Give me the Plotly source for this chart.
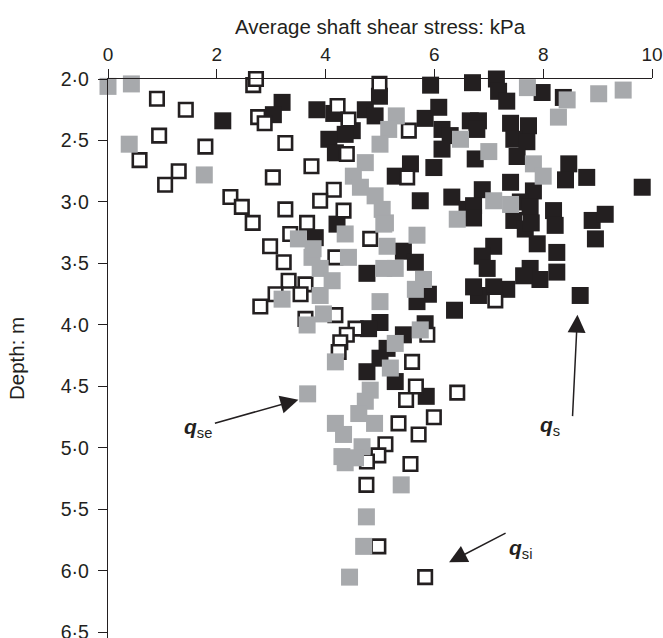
import plotly.graph_objects as go

# q_s : black filled squares (shear stress kPa, depth m)
qs_x = [2.11, 3.20, 3.04, 4.99, 5.93, 6.70, 3.84, 4.15, 4.73, 4.91, 5.83, 6.08, 6.14, 6.29, 6.66,
        4.49, 4.36, 4.06, 4.18, 5.56, 5.28, 5.99, 6.14, 5.74, 6.32, 6.60, 6.75, 7.14, 7.18, 7.33,
        7.98, 8.37, 6.81, 6.78, 7.40, 7.73, 7.46, 7.70, 7.52, 8.47, 8.41, 8.80, 9.82, 6.88, 7.40,
        7.82, 7.58, 7.76, 8.19, 8.22, 8.90, 9.14, 7.46, 6.72, 6.72, 8.96, 7.67, 7.89, 8.25, 7.09,
        6.88, 6.97, 7.76, 7.94, 8.25, 7.64, 7.33, 7.09, 6.81, 8.68, 4.21, 3.81, 5.43, 5.65, 4.76,
        5.89, 5.68, 6.72, 6.37, 5.00, 4.79, 5.83, 5.43, 5.13, 5.00, 4.76, 5.28, 5.85, 7.78]
qs_d = [2.34, 2.19, 2.29, 2.14, 2.05, 2.03, 2.25, 2.28, 2.25, 2.30, 2.32, 2.23, 2.41, 2.46, 2.34,
        2.42, 2.45, 2.49, 2.60, 2.69, 2.79, 2.72, 2.57, 2.99, 2.96, 3.06, 2.65, 2.00, 2.10, 2.18,
        2.11, 2.15, 2.34, 2.41, 2.36, 2.38, 2.49, 2.51, 2.63, 2.69, 2.82, 2.80, 2.88, 2.90, 2.84,
        2.91, 3.00, 3.04, 3.07, 3.19, 3.15, 3.10, 3.15, 3.03, 3.13, 3.30, 3.22, 3.34, 3.41, 3.36,
        3.44, 3.54, 3.54, 3.63, 3.57, 3.60, 3.71, 3.69, 3.76, 3.76, 3.18, 3.29, 3.40, 3.49, 3.58,
        3.75, 3.81, 3.69, 3.88, 3.98, 4.03, 3.99, 4.08, 4.19, 4.27, 4.38, 4.46, 4.58, 3.17]

# q_se : grey filled squares
qse_x = [0.00, 0.43, 0.39, 1.77, 7.71, 8.44, 8.28, 9.02, 9.47, 5.30, 5.16, 5.00, 4.73, 4.51, 4.64,
         4.91, 5.04, 5.10, 6.48, 7.00, 7.82, 8.00, 7.09, 7.40, 6.42, 4.36, 5.07, 3.50, 5.13, 5.68,
         4.42, 3.75, 3.90, 5.07, 5.28, 4.12, 5.80, 5.65, 3.90, 5.00, 3.96, 3.66, 5.74, 5.28, 4.18,
         5.19, 3.67, 4.82, 4.73, 4.61, 4.90, 4.18, 4.33, 4.67, 4.30, 4.36, 4.55, 5.39, 4.75, 4.70,
         4.44, 3.20, 3.77]
qse_d = [2.06, 2.04, 2.53, 2.78, 2.07, 2.17, 2.31, 2.12, 2.09, 2.30, 2.41, 2.53, 2.68, 2.79, 2.88,
         2.95, 3.06, 3.17, 2.49, 2.59, 2.69, 2.79, 2.99, 3.02, 3.14, 3.26, 3.18, 3.30, 3.36, 3.27,
         3.45, 3.45, 3.54, 3.54, 3.54, 3.64, 3.63, 3.71, 3.76, 3.81, 3.91, 4.00, 4.04, 4.15, 4.30,
         4.35, 4.56, 4.53, 4.62, 4.72, 4.80, 4.80, 4.89, 4.99, 5.07, 5.12, 5.08, 5.30, 5.56, 5.80,
         6.05, 3.79, 3.38]

# q_si : open squares
qsi_x = [0.90, 1.43, 2.67, 2.72, 2.76, 2.88, 0.94, 0.58, 1.79, 1.30, 1.05, 3.03, 3.26, 2.25, 2.46,
         2.66, 3.26, 4.99, 4.22, 4.42, 5.53, 4.39, 5.50, 3.74, 4.15, 3.90, 4.33, 3.66, 3.35, 2.98,
         3.23, 3.32, 3.08, 2.80, 4.82, 4.18, 3.63, 3.54, 4.18, 3.63, 4.55, 4.39, 4.27, 4.24, 5.59,
         6.42, 5.66, 5.48, 5.34, 5.99, 5.71, 5.10, 4.97, 4.76, 5.56, 4.75, 4.97, 5.83, 7.12, 5.87]
qsi_d = [2.16, 2.25, 2.05, 2.00, 2.31, 2.36, 2.46, 2.66, 2.55, 2.75, 2.86, 2.80, 2.52, 2.96, 3.04,
         3.17, 3.06, 2.04, 2.22, 2.33, 2.42, 2.61, 2.80, 2.71, 2.90, 2.99, 3.07, 3.17, 3.26, 3.36,
         3.49, 3.64, 3.75, 3.85, 3.30, 3.45, 3.67, 3.75, 3.92, 3.95, 4.03, 4.08, 4.14, 4.22, 4.30,
         4.55, 4.50, 4.61, 4.80, 4.75, 4.89, 4.97, 5.06, 5.11, 5.13, 5.30, 5.80, 6.05, 3.80, 4.08]

x_ticks = [0, 2, 4, 6, 8, 10]
y_ticks = [2.0, 2.5, 3.0, 3.5, 4.0, 4.5, 5.0, 5.5, 6.0, 6.5]
y_tick_text = ["2·0", "2·5", "3·0", "3·5", "4·0", "4·5", "5·0", "5·5", "6·0", "6·5"]

BLACK = "#231f20"
GREY = "#a7a9ac"
FONT = "Liberation Sans, Arial, sans-serif"

fig = go.Figure()
fig.add_trace(go.Scatter(x=qs_x, y=qs_d, mode="markers", name="qs", cliponaxis=False,
                         marker=dict(symbol="square", size=17, color=BLACK, line=dict(width=0))))
fig.add_trace(go.Scatter(x=qsi_x, y=qsi_d, mode="markers", name="qsi", cliponaxis=False,
                         marker=dict(symbol="square", size=13.5, color="white",
                                     line=dict(width=2.6, color=BLACK))))
fig.add_trace(go.Scatter(x=qse_x, y=qse_d, mode="markers", name="qse", cliponaxis=False,
                         marker=dict(symbol="square", size=17, color=GREY, line=dict(width=0))))

fig.update_layout(
    width=663, height=638,
    margin=dict(l=108, r=11, t=79, b=0),
    paper_bgcolor="white", plot_bgcolor="white",
    showlegend=False,
    font=dict(family=FONT, size=19, color="#231f20"),
    xaxis=dict(side="top", range=[0, 10], tickvals=x_ticks, ticks="outside", ticklen=9,
               tickwidth=1.3, tickcolor="#231f20", showline=True, linecolor="#231f20",
               linewidth=1.3, showgrid=False, zeroline=False, tickfont=dict(size=19),
               automargin=False,
               title=dict(text="Average shaft shear stress: kPa", font=dict(size=20.5), standoff=4)),
    yaxis=dict(range=[6.545, 2.0], tickvals=y_ticks, ticktext=y_tick_text, ticks="outside",
               ticklen=9, tickwidth=1.3, tickcolor="#231f20", showline=True, linecolor="#231f20",
               linewidth=1.3, showgrid=False, zeroline=False, tickfont=dict(size=19.5),
               ticklabeloverflow="allow", ticklabelstandoff=5, automargin=False,
               title=dict(text="Depth: m", font=dict(size=20.5), standoff=30)),
)

arrows = [
    dict(x=3.50, y=4.607, ax=-85, ay=24),
    dict(x=8.63, y=3.916, ax=-5, ay=103),
    dict(x=6.27, y=5.93, ax=58, ay=-30),
]
for a in arrows:
    fig.add_annotation(x=a["x"], y=a["y"], xref="x", yref="y", ax=a["ax"], ay=a["ay"],
                       text="", showarrow=True, arrowhead=2, arrowsize=2.4, arrowwidth=1.5,
                       arrowcolor=BLACK)

labels = [
    dict(x=1.65, y=4.84, t="<b><i>q</i></b><sub>se</sub>"),
    dict(x=8.13, y=4.82, t="<b><i>q</i></b><sub>s</sub>"),
    dict(x=7.58, y=5.82, t="<b><i>q</i></b><sub>si</sub>"),
]
for l in labels:
    fig.add_annotation(x=l["x"], y=l["y"], xref="x", yref="y", text=l["t"], showarrow=False,
                       font=dict(family=FONT, size=21, color=BLACK))

fig.write_html("out.html")
